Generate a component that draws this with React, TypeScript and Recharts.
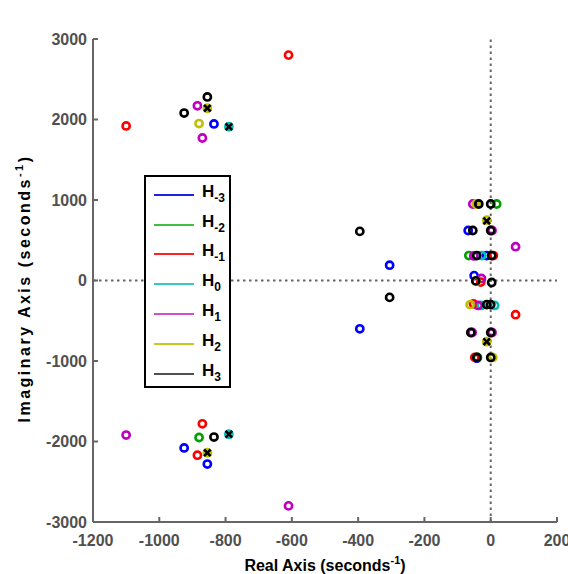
import {
  ScatterChart,
  Scatter,
  XAxis,
  YAxis,
  ReferenceLine,
  Legend,
  Label,
} from "recharts"

// zeros of each transfer function, [real, imag] in seconds^-1
const zerosHm3 = [
  [-835, 1945], [-925, -2080], [-855, -2280], [-305, 190], [-395, -600],
  [-68, 621], [-50, 60], [-12, 310], [-42, -965],
]
const zerosHm2 = [
  [-880, -1950], [18, 950], [-66, 310], [-40, -955],
]
const zerosHm1 = [
  [-610, 2800], [-1100, 1920], [-870, -1780], [-885, -2170], [75, -425],
  [8, 310], [-30, -20], [-52, -290], [-48, -955],
]
const zerosH0 = [
  [-790, 1910], [-790, -1910], [-27, 310], [-28, -310], [12, -310],
]
const zerosH1 = [
  [-610, -2800], [-1100, -1920], [-885, 2170], [-870, 1770], [75, 420],
  [-54, 950], [4, 621], [-51, 305], [-28, 25], [-38, -310], [-56, -646], [4, -646],
]
const zerosH2 = [
  [-855, 2140], [-880, 1950], [-855, -2140], [-12, 750], [-12, -760],
  [-44, 950], [-44, -10], [-62, -300], [6, -956],
]
const zerosH3 = [
  [-855, 2280], [-925, 2080], [-835, -1945], [-395, 610], [-305, -210],
  [-36, 950], [0, 950], [-54, 621], [0, 621], [-42, 310], [3, 310],
  [-45, -5], [3, -25], [-12, -300], [0, -300], [-60, -646], [0, -646],
  [-42, -956], [0, -956],
]
// poles shared by all
const poles = [
  [-855, 2140], [-790, 1910], [-855, -2140], [-790, -1910], [-12, 740], [-12, -760],
]

const seriesNames = ["-3", "-2", "-1", "0", "1", "2", "3"]
const seriesColors = ["#0000ff", "#00a000", "#ff0000", "#00bfbf", "#bf00bf", "#bfbf00", "#000000"]
const legendColors = ["#2020e0", "#40c040", "#ff2020", "#30c8c8", "#d050d0", "#c8c820", "#505050"]
const seriesZeros = [zerosHm3, zerosHm2, zerosHm1, zerosH0, zerosH1, zerosH2, zerosH3]

const realTicks = [-1200, -1000, -800, -600, -400, -200, 0, 200]
const imagTicks = [-3000, -2000, -1000, 0, 1000, 2000, 3000]

const toPoints = (arr: number[][]) => arr.map(([re, im]) => ({ re, im }))

const FONT = "'Liberation Sans', Arial, sans-serif"
const AXIS = "#666666"

function ringShape(color: string) {
  return (props: any) => (
    <circle cx={props.cx} cy={props.cy} r={3.6} fill="none" stroke={color} strokeWidth={2.6} />
  )
}

function crossShape(props: any) {
  const { cx, cy } = props
  const s = 3.3
  return (
    <g stroke="#000" strokeWidth={2.6}>
      <line x1={cx - s} y1={cy - s} x2={cx + s} y2={cy + s} />
      <line x1={cx - s} y1={cy + s} x2={cx + s} y2={cy - s} />
    </g>
  )
}

function XTitle(props: any) {
  const { x, y, width } = props.viewBox
  return (
    <text x={x + width / 2} y={y + 49} textAnchor="middle" fontFamily={FONT} fontWeight="bold" fontSize={16} fill="#000">
      Real Axis (seconds
      <tspan dy={-7} fontSize={11}>-1</tspan>
      <tspan dy={7}>)</tspan>
    </text>
  )
}

function YTitle(props: any) {
  const { y, height } = props.viewBox
  const cx = 30
  const cy = y + height / 2 + 8
  return (
    <text
      x={cx}
      y={cy}
      transform={`rotate(-90 ${cx} ${cy})`}
      textAnchor="middle"
      fontFamily={FONT}
      fontWeight="bold"
      fontSize={16}
      letterSpacing={2.5}
      fill="#000"
    >
      Imaginary Axis (seconds
      <tspan dy={-7} fontSize={11}>-1</tspan>
      <tspan dy={7}>)</tspan>
    </text>
  )
}

function LegendBox() {
  return (
    <div
      style={{
        width: 87,
        height: 213,
        border: "2px solid #000",
        background: "#fff",
        boxSizing: "border-box",
        paddingTop: 3,
        fontFamily: FONT,
      }}
    >
      {seriesNames.map((n, i) => (
        <div key={n} style={{ display: "flex", alignItems: "center", height: 29.8 }}>
          <div style={{ marginLeft: 8, width: 40, height: 2, background: legendColors[i] }} />
          <div style={{ marginLeft: 8, fontWeight: "bold", fontSize: 17, color: "#000", lineHeight: "20px" }}>
            H<sub style={{ fontSize: 12, verticalAlign: -5 }}>{n}</sub>
          </div>
        </div>
      ))}
    </div>
  )
}

const tickStyle = { fontFamily: FONT, fontWeight: "bold", fontSize: 16, fill: "#505050" }

export default function App() {
  return (
    <div style={{ position: "absolute", left: 0, top: 0 }}>
      <ScatterChart width={568} height={574} margin={{ top: 39, right: 11, bottom: 12, left: 33 }}>
        <XAxis
          xAxisId="re"
          dataKey="re"
          type="number"
          domain={[-1200, 200]}
          ticks={realTicks}
          interval={0}
          allowDataOverflow
          height={40}
          tickSize={-5}
          tickMargin={18}
          tick={tickStyle}
          axisLine={{ stroke: AXIS, strokeWidth: 2 }}
          tickLine={{ stroke: AXIS, strokeWidth: 2 }}
        >
          <Label content={XTitle} />
        </XAxis>
        <XAxis
          xAxisId="reTop"
          orientation="top"
          type="number"
          domain={[-1200, 200]}
          ticks={realTicks}
          interval={0}
          height={0}
          tickSize={-5}
          tick={false}
          axisLine={{ stroke: AXIS, strokeWidth: 2 }}
          tickLine={{ stroke: AXIS, strokeWidth: 2 }}
        >
          <Label
            value="Pole-Zero Map"
            position="top"
            offset={11}
            style={{ fontFamily: FONT, fontWeight: "bold", fontSize: 16, fill: "#000" }}
          />
        </XAxis>
        <YAxis
          yAxisId="im"
          dataKey="im"
          type="number"
          domain={[-3000, 3000]}
          ticks={imagTicks}
          interval={0}
          allowDataOverflow
          width={60}
          tickSize={-5}
          tickMargin={11}
          tick={tickStyle}
          axisLine={{ stroke: AXIS, strokeWidth: 2 }}
          tickLine={{ stroke: AXIS, strokeWidth: 2 }}
        >
          <Label content={YTitle} />
        </YAxis>
        <YAxis
          yAxisId="imRight"
          orientation="right"
          type="number"
          domain={[-3000, 3000]}
          ticks={imagTicks}
          interval={0}
          width={0}
          tickSize={-5}
          tick={false}
          axisLine={{ stroke: AXIS, strokeWidth: 2 }}
          tickLine={{ stroke: AXIS, strokeWidth: 2 }}
        />
        <ReferenceLine xAxisId="re" yAxisId="im" x={0} stroke={AXIS} strokeWidth={2} strokeDasharray="2.5 3.5" />
        <ReferenceLine xAxisId="re" yAxisId="im" y={0} stroke={AXIS} strokeWidth={2} strokeDasharray="2.5 3.5" />
        {seriesZeros.map((z, i) => (
          <Scatter
            key={seriesNames[i]}
            name={`H${seriesNames[i]}`}
            xAxisId="re"
            yAxisId="im"
            data={toPoints(z)}
            fill={seriesColors[i]}
            shape={ringShape(seriesColors[i])}
            isAnimationActive={false}
          />
        ))}
        <Scatter
          name="poles"
          xAxisId="re"
          yAxisId="im"
          data={toPoints(poles)}
          fill="#000"
          shape={crossShape}
          legendType="none"
          isAnimationActive={false}
        />
        <Legend
          layout="vertical"
          align="center"
          verticalAlign="middle"
          content={LegendBox}
          wrapperStyle={{ left: 144, top: 175, width: 87, height: 213 }}
        />
      </ScatterChart>
    </div>
  )
}
